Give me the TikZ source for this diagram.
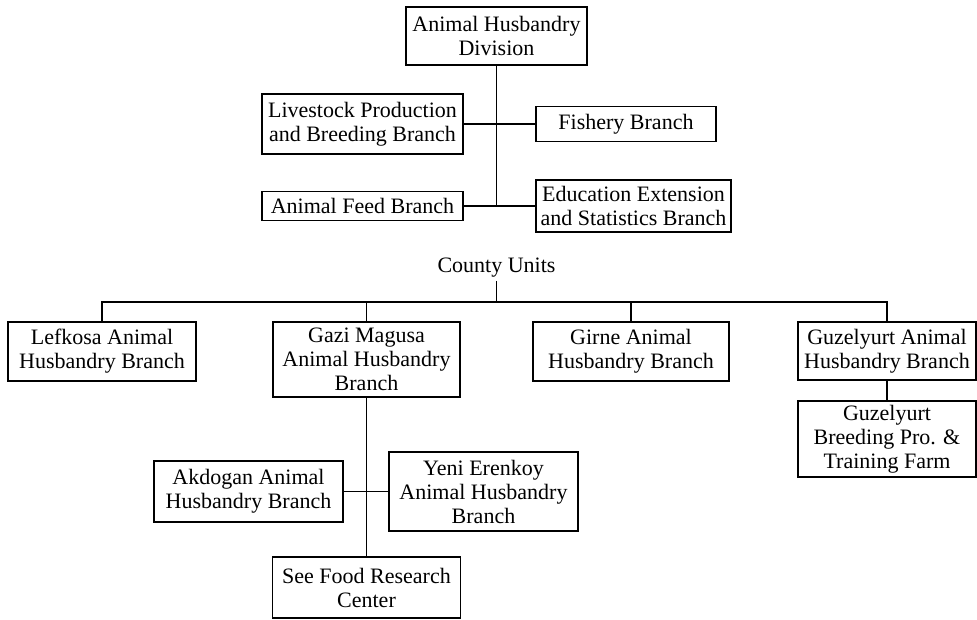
\documentclass[tikz,border=0pt]{standalone}
\usepackage{fontspec}
\setmainfont{Liberation Serif}
\usepackage{tikz}
\usetikzlibrary{calc}
\tikzstyle{unit} = [rectangle, draw=black, line width=1.3pt, inner sep=0pt, align=center, text centered, font=\fontsize{22}{24}\selectfont]
\tikzstyle{conn} = [line width=1.3pt]

\begin{document}
\begin{tikzpicture}[x=1pt,y=-1pt]
\useasboundingbox (0,0) rectangle (977,619);
\node (div) [unit, minimum width=181pt, minimum height=58pt] at (496.5,36) {Animal Husbandry\\Division};
\node (live) [unit, minimum width=201pt, minimum height=60pt] at (362.5,124) {Livestock Production\\and Breeding Branch};
\node (fish) [unit, minimum width=180pt, minimum height=35pt] at (626,124) {Fishery Branch};
\node (feed) [unit, minimum width=201pt, minimum height=29pt] at (362.5,206) {Animal Feed Branch};
\node (edu) [unit, minimum width=195pt, minimum height=52pt] at (633.5,206) {Education Extension\\and Statistics Branch};
\node (cu) [font=\fontsize{22}{24}\selectfont, inner sep=0pt] at (496.5,268) {County Units};
\coordinate (bar) at (496.5,302);
\node (lef) [unit, minimum width=188pt, minimum height=59pt] at (102,351.5) {Lefkosa Animal\\Husbandry Branch};
\node (gazi) [unit, minimum width=187pt, minimum height=75pt] at (366.5,359.5) {Gazi Magusa\\Animal Husbandry\\Branch};
\node (girne) [unit, minimum width=196pt, minimum height=59pt] at (631,351.5) {Girne Animal\\Husbandry Branch};
\node (guz) [unit, minimum width=178pt, minimum height=58pt] at (887,351) {Guzelyurt Animal\\Husbandry Branch};
\node (farm) [unit, minimum width=178pt, minimum height=76pt] at (887,439) {Guzelyurt\\Breeding Pro. \&\\Training Farm};
\node (akd) [unit, minimum width=189pt, minimum height=61pt] at (248.5,491.5) {Akdogan Animal\\Husbandry Branch};
\node (yeni) [unit, minimum width=189pt, minimum height=79pt] at (483.5,491.5) {Yeni Erenkoy\\Animal Husbandry\\Branch};
\node (food) [unit, minimum width=188pt, minimum height=61pt] at (366.5,587.5) {See Food Research\\Center};
\draw [conn] (div.south) -- (div.south |- feed.east);
\draw [conn] (live.east) -- (fish.west);
\draw [conn] (feed.east) -- (edu.west);
\draw [conn] (cu.south) ++(0,3) -- (bar);
\draw [conn] (lef.north) -- (lef.north |- bar) -- (guz.north |- bar) -- (guz.north);
\draw [conn] (gazi.north) -- (gazi.north |- bar);
\draw [conn] (girne.north) -- (girne.north |- bar);
\draw [conn] (guz.south) -- (farm.north);
\draw [conn] (gazi.south) -- (food.north);
\draw [conn] (akd.east) -- (yeni.west);
\end{tikzpicture}
\end{document}
